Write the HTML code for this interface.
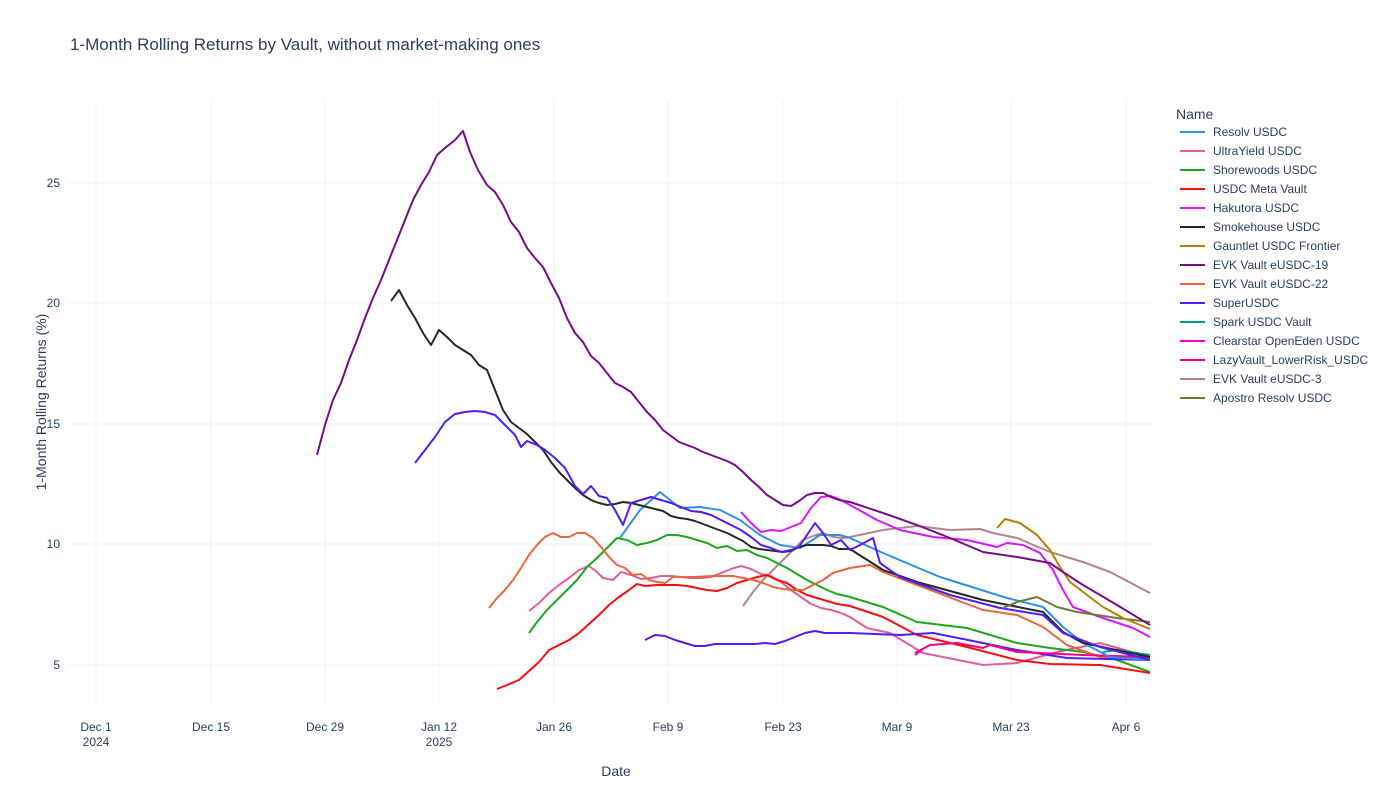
<!DOCTYPE html>
<html><head><meta charset="utf-8"><style>
body{margin:0;background:#fff;font-family:"Liberation Sans",sans-serif;}
svg text{font-family:"Liberation Sans",sans-serif;fill:#2a3f5f;}
</style></head><body>
<svg width="1400" height="800" xmlns="http://www.w3.org/2000/svg">
<rect width="1400" height="800" fill="#fff"/>
<text x="70" y="50" font-size="17">1-Month Rolling Returns by Vault, without market-making ones</text>
<g stroke="#ebf0f8" stroke-width="1">
<line x1="96" y1="100" x2="96" y2="705"/><line x1="211" y1="100" x2="211" y2="705"/><line x1="325" y1="100" x2="325" y2="705"/><line x1="439" y1="100" x2="439" y2="705"/><line x1="554" y1="100" x2="554" y2="705"/><line x1="668" y1="100" x2="668" y2="705"/><line x1="783" y1="100" x2="783" y2="705"/><line x1="897" y1="100" x2="897" y2="705"/><line x1="1011" y1="100" x2="1011" y2="705"/><line x1="1126" y1="100" x2="1126" y2="705"/>
<line x1="68" y1="665" x2="1152" y2="665"/><line x1="68" y1="544" x2="1152" y2="544"/><line x1="68" y1="424" x2="1152" y2="424"/><line x1="68" y1="303" x2="1152" y2="303"/><line x1="68" y1="183" x2="1152" y2="183"/>
</g>
<g font-size="12" text-anchor="end">
<text x="60" y="669">5</text><text x="60" y="548">10</text><text x="60" y="428">15</text><text x="60" y="307">20</text><text x="60" y="187">25</text>
</g>
<g font-size="12" text-anchor="middle">
<text x="96" y="731">Dec 1</text><text x="96" y="746">2024</text><text x="211" y="731">Dec 15</text><text x="325" y="731">Dec 29</text><text x="439" y="731">Jan 12</text><text x="439" y="746">2025</text><text x="554" y="731">Jan 26</text><text x="668" y="731">Feb 9</text><text x="783" y="731">Feb 23</text><text x="897" y="731">Mar 9</text><text x="1011" y="731">Mar 23</text><text x="1126" y="731">Apr 6</text>
</g>
<text x="616" y="776" font-size="14" text-anchor="middle">Date</text>
<text transform="translate(46,402) rotate(-90)" font-size="14" text-anchor="middle">1-Month Rolling Returns (%)</text>
<g fill="none" stroke-width="2" stroke-linejoin="round">
<polyline stroke="#B2828D" points="743,606 753,592 763,580 773,570 783,560 793,550 803,540 813,536 823,533 833,537 843,538 850,537 883,530 917,526 950,530 980,529 993,533 1017,538 1050,552 1083,562 1110,572 1150,593"/>
<polyline stroke="#E15F99" points="529,611 539,603 549,593 559,585 569,578 579,570 589,566 597,572 603,578 613,580 621,572 631,575 641,579 651,578 661,576 671,576 681,577 691,578 701,578 711,577 721,573 731,569 741,566 751,569 761,574 771,576 781,582 791,590 801,597 811,604 821,608 831,610 841,613 850,617 867,628 890,633 923,653 983,665 1017,663 1057,652 1100,643 1150,657"/>
<polyline stroke="#1CA71C" points="529,633 537,622 547,610 557,600 567,590 577,580 587,567 597,558 607,548 617,538 627,540 637,545 647,543 657,540 667,535 677,535 687,537 697,540 707,543 717,548 727,546 737,551 747,550 757,555 767,558 777,563 787,568 797,574 807,580 817,585 827,590 837,594 850,597 883,607 917,622 967,628 1017,643 1050,648 1083,652 1117,660 1150,672"/>
<polyline stroke="#FB0D0D" points="497,689 507,685 519,680 529,671 539,662 549,650 559,645 569,640 579,633 589,624 599,615 609,605 619,597 629,590 637,584 645,586 657,585 667,585 677,585 687,586 697,588 707,590 717,591 727,588 737,583 747,580 757,577 767,575 777,580 787,583 797,590 807,595 817,598 827,601 837,604 850,606 883,617 917,635 967,647 1017,660 1050,664 1100,665 1150,673"/>
<polyline stroke="#EB663B" points="489,608 497,598 505,590 513,580 521,568 529,555 537,545 545,537 553,533 561,537 569,537 577,533 585,533 593,538 601,547 609,557 617,565 625,568 633,575 641,574 649,580 657,582 665,583 673,577 693,577 713,576 733,576 743,578 753,580 763,583 773,587 783,589 793,590 803,590 813,585 823,580 833,573 843,570 850,568 870,565 883,572 917,585 983,610 1017,615 1043,627 1067,645 1100,657 1150,658"/>
<polyline stroke="#511CFB" points="645,640 655,635 665,636 675,640 685,643 695,646 705,646 715,644 725,644 735,644 745,644 755,644 765,643 775,644 785,641 795,637 805,633 815,631 825,633 835,633 850,633 900,635 933,633 983,643 1017,650 1067,658 1150,660"/>
<polyline stroke="#FC0080" points="915,653 930,645 957,643 983,648 990,645 1017,652 1083,655 1150,657"/>
<polyline stroke="#00A08B" points="1103,652 1117,650 1150,655"/>
<polyline stroke="#2E91E5" points="620,538 640,510 660,492 670,500 680,508 700,507 720,510 740,520 760,535 780,545 800,548 820,535 840,535 850,538 883,553 940,577 1007,598 1043,607 1063,627 1083,643 1110,657 1150,660"/>
<polyline stroke="#222A2A" points="391,301 399,290 407,305 415,318 423,333 431,345 439,330 447,337 455,345 463,350 471,355 479,365 487,370 495,390 503,410 511,422 519,428 527,434 535,442 543,450 551,462 559,472 567,480 575,488 583,495 591,500 599,503 607,505 615,504 623,502 631,503 639,505 647,507 655,509 663,511 671,516 679,518 687,519 695,521 703,524 711,527 719,530 727,533 735,537 743,541 751,547 759,549 767,550 775,551 783,552 791,551 799,547 807,545 815,545 823,545 831,546 839,549 850,549 883,570 917,582 983,600 1043,612 1063,632 1083,643 1150,657"/>
<polyline stroke="#511CFB" points="415,463 425,450 435,437 445,422 455,414 465,412 475,411 485,412 495,415 505,425 515,435 521,447 527,441 537,445 545,450 555,458 565,468 575,486 583,494 591,486 599,496 607,498 615,510 623,525 631,503 641,500 651,497 661,500 671,503 681,507 691,511 701,512 711,515 721,520 731,525 741,530 751,537 761,545 771,548 781,552 791,550 799,547 807,535 815,523 823,533 831,545 841,540 850,550 860,545 873,538 880,563 900,577 950,595 1000,608 1043,615 1063,633 1100,647 1150,660"/>
<polyline stroke="#DA16FF" points="741,512 751,523 761,532 771,530 781,531 791,527 801,523 811,508 821,497 831,496 841,500 850,505 877,520 900,530 933,537 967,540 997,547 1007,543 1023,545 1040,553 1053,570 1063,590 1073,607 1100,617 1133,628 1150,637"/>
<polyline stroke="#6C7C32" points="1003,608 1017,602 1037,597 1057,607 1077,612 1117,618 1150,622"/>
<polyline stroke="#B68100" points="997,528 1005,519 1020,523 1037,535 1050,550 1060,567 1070,582 1083,592 1103,607 1123,618 1150,629"/>
<polyline stroke="#750D86" points="317,455 325,425 333,400 341,383 349,360 357,340 365,318 373,298 381,280 389,260 397,240 405,220 413,200 421,185 429,172 437,155 445,148 455,140 463,131 470,152 478,170 487,185 495,192 503,205 511,222 519,232 527,248 535,258 543,267 551,283 559,298 567,318 575,333 583,342 591,356 599,363 607,373 615,383 623,387 631,392 639,402 647,412 655,420 663,430 671,436 679,442 687,445 695,448 703,452 711,455 719,458 727,461 735,465 743,472 751,480 759,487 767,495 775,500 783,505 791,506 799,501 807,495 815,493 823,493 831,497 839,500 850,502 883,513 917,525 950,538 983,552 1017,557 1050,563 1063,572 1083,585 1117,605 1150,625"/>
<polyline stroke="#FB00D1" points="915,655 922,650"/>
</g>
<text x="1176" y="119" font-size="14">Name</text>
<g font-size="12">
<line x1="1180" y1="132" x2="1205" y2="132" stroke="#2E91E5" stroke-width="2"/><text x="1213" y="136">Resolv USDC</text>
<line x1="1180" y1="151" x2="1205" y2="151" stroke="#E15F99" stroke-width="2"/><text x="1213" y="155">UltraYield USDC</text>
<line x1="1180" y1="170" x2="1205" y2="170" stroke="#1CA71C" stroke-width="2"/><text x="1213" y="174">Shorewoods USDC</text>
<line x1="1180" y1="189" x2="1205" y2="189" stroke="#FB0D0D" stroke-width="2"/><text x="1213" y="193">USDC Meta Vault</text>
<line x1="1180" y1="208" x2="1205" y2="208" stroke="#DA16FF" stroke-width="2"/><text x="1213" y="212">Hakutora USDC</text>
<line x1="1180" y1="227" x2="1205" y2="227" stroke="#222A2A" stroke-width="2"/><text x="1213" y="231">Smokehouse USDC</text>
<line x1="1180" y1="246" x2="1205" y2="246" stroke="#B68100" stroke-width="2"/><text x="1213" y="250">Gauntlet USDC Frontier</text>
<line x1="1180" y1="265" x2="1205" y2="265" stroke="#750D86" stroke-width="2"/><text x="1213" y="269">EVK Vault eUSDC-19</text>
<line x1="1180" y1="284" x2="1205" y2="284" stroke="#EB663B" stroke-width="2"/><text x="1213" y="288">EVK Vault eUSDC-22</text>
<line x1="1180" y1="303" x2="1205" y2="303" stroke="#511CFB" stroke-width="2"/><text x="1213" y="307">SuperUSDC</text>
<line x1="1180" y1="322" x2="1205" y2="322" stroke="#00A08B" stroke-width="2"/><text x="1213" y="326">Spark USDC Vault</text>
<line x1="1180" y1="341" x2="1205" y2="341" stroke="#FB00D1" stroke-width="2"/><text x="1213" y="345">Clearstar OpenEden USDC</text>
<line x1="1180" y1="360" x2="1205" y2="360" stroke="#FC0080" stroke-width="2"/><text x="1213" y="364">LazyVault_LowerRisk_USDC</text>
<line x1="1180" y1="379" x2="1205" y2="379" stroke="#B2828D" stroke-width="2"/><text x="1213" y="383">EVK Vault eUSDC-3</text>
<line x1="1180" y1="398" x2="1205" y2="398" stroke="#6C7C32" stroke-width="2"/><text x="1213" y="402">Apostro Resolv USDC</text>
</g>
</svg>
</body></html>
